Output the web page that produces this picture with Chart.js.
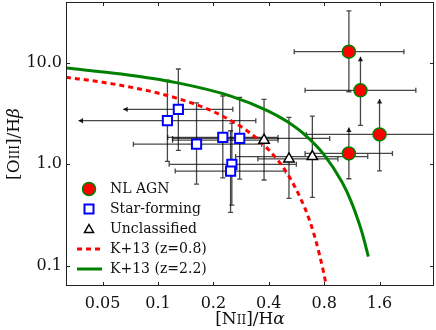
<!DOCTYPE html>
<html lang="en">
<head>
<meta charset="UTF-8" />
<title>BPT diagram</title>
<script src="https://cdn.jsdelivr.net/npm/chart.js"></script>
<style>
  body { margin: 0; background: #fff; }
</style>
</head>
<body>
<canvas id="bpt" width="436" height="330"></canvas>
<script>
// axis ticks
const xTicks = [0.05, 0.1, 0.2, 0.4, 0.8, 1.6];
const xTickLabels = ["0.05", "0.1", "0.2", "0.4", "0.8", "1.6"];
const yTicks = [0.1, 1, 10];
const yTickLabels = ["0.1", "1.0", "10.0"];

// NL AGN
const agnX   = [1.09, 1.26, 1.60, 1.09];
const agnY   = [12.9, 5.36, 1.97, 1.28];
const agnXLo = [0.55, 0.63, 0.64, 0.63];
const agnXHi = [2.17, 2.52, 4.0, 1.88];
const agnYLo = [5.19, 2.42, 0.86, 0.72];
const agnYHi = [32.5, 11.5, 4.4, 2.31];
const agnYLowerLim = [false, true, true, true];

// Star-forming
const sfX   = [0.1125, 0.129, 0.162, 0.225, 0.278, 0.252, 0.248];
const sfY   = [2.69, 3.48, 1.58, 1.84, 1.80, 1.00, 0.857];
const sfXLo = [0.037, 0.0647, 0.0735, 0.113, 0.120, 0.115, 0.124];
const sfXHi = [0.340, 0.255, 0.366, 0.449, 0.857, 0.565, 0.492];
const sfYLo = [1.07, 1.37, 0.638, 0.736, 0.714, 0.396, 0.336];
const sfYHi = [6.77, 8.7, 4.04, 4.71, 4.57, 2.53, 2.14];
const sfXUpperLim = [true, true, false, false, false, false, false];

// Unclassified
const unX   = [0.377, 0.515, 0.690];
const unY   = [1.73, 1.13, 1.19];
const unXLo = [0.12, 0.349, 0.264];
const unXHi = [0.449, 0.95, 1.38];
const unYLo = [0.70, 0.461, 0.472];
const unYHi = [4.37, 2.90, 2.99];

// K+13 demarcation curves
const k08X = [0.0316, 0.0501, 0.0794, 0.126, 0.200, 0.316, 0.398, 0.501, 0.631, 0.708, 0.794, 0.826];
const k08Y = [7.21, 6.43, 5.53, 4.49, 3.31, 2.04, 1.40, 0.826, 0.363, 0.198, 0.0863, 0.060];
const k22X = [0.0316, 0.0631, 0.126, 0.251, 0.398, 0.501, 0.631, 0.794, 1.0, 1.122, 1.259, 1.318, 1.39];
const k22Y = [8.89, 7.77, 6.38, 4.68, 3.35, 2.65, 1.94, 1.26, 0.668, 0.429, 0.239, 0.180, 0.123];

const SERIF = "'DejaVu Serif', serif";
const RED = "#ff0000", GREEN = "#008000", BLUE = "#0000ff";

const pts = (xs, ys) => xs.map((x, i) => ({ x: x, y: ys[i] }));

const errGroups = [
  { x: sfX, y: sfY, xlo: sfXLo, xhi: sfXHi, ylo: sfYLo, yhi: sfYHi, xUp: sfXUpperLim },
  { x: unX, y: unY, xlo: unXLo, xhi: unXHi, ylo: unYLo, yhi: unYHi },
  { x: agnX, y: agnY, xlo: agnXLo, xhi: agnXHi, ylo: agnYLo, yhi: agnYHi, yLow: agnYLowerLim }
];

function arrowHead(ctx, x, y, dir) {
  const s = 4.5;
  ctx.beginPath();
  if (dir === "left") { ctx.moveTo(x, y); ctx.lineTo(x + s, y - s * 0.6); ctx.lineTo(x + s, y + s * 0.6); }
  else { ctx.moveTo(x, y); ctx.lineTo(x - s * 0.6, y + s); ctx.lineTo(x + s * 0.6, y + s); }
  ctx.closePath(); ctx.fill();
}

const errorBars = {
  id: "errorBars",
  beforeDatasetsDraw(chart) {
    const { ctx, chartArea: a, scales: { x: sx, y: sy } } = chart;
    ctx.save();
    ctx.beginPath(); ctx.rect(a.left, a.top, a.right - a.left, a.bottom - a.top); ctx.clip();
    ctx.strokeStyle = "rgba(0,0,0,0.72)";
    ctx.fillStyle = "rgba(0,0,0,0.85)";
    ctx.lineWidth = 1.3;
    const cap = 2.5;
    errGroups.forEach(g => {
      g.x.forEach((xv, i) => {
        const px = sx.getPixelForValue(xv), py = sy.getPixelForValue(g.y[i]);
        const x0 = sx.getPixelForValue(g.xlo[i]), x1 = sx.getPixelForValue(g.xhi[i]);
        const y0 = sy.getPixelForValue(g.ylo[i]), y1 = sy.getPixelForValue(g.yhi[i]);
        ctx.beginPath();
        ctx.moveTo(x0, py); ctx.lineTo(x1, py);
        ctx.moveTo(px, y0); ctx.lineTo(px, y1);
        // caps
        if (!(g.xUp && g.xUp[i])) { ctx.moveTo(x0, py - cap); ctx.lineTo(x0, py + cap); }
        ctx.moveTo(x1, py - cap); ctx.lineTo(x1, py + cap);
        ctx.moveTo(px - cap, y0); ctx.lineTo(px + cap, y0);
        if (!(g.yLow && g.yLow[i])) { ctx.moveTo(px - cap, y1); ctx.lineTo(px + cap, y1); }
        ctx.stroke();
        if (g.xUp && g.xUp[i]) arrowHead(ctx, x0, py, "left");
        if (g.yLow && g.yLow[i]) arrowHead(ctx, px, y1, "up");
      });
    });
    ctx.restore();
  }
};

function richText(ctx, parts, x, y) {
  let w = 0;
  parts.forEach(p => { ctx.font = p.f; w += ctx.measureText(p.t).width; });
  let cx = x - w / 2;
  parts.forEach(p => { ctx.font = p.f; ctx.fillText(p.t, cx, y); cx += ctx.measureText(p.t).width; });
}

const frameAndText = {
  id: "frameAndText",
  afterDraw(chart) {
    const { ctx, chartArea: a, scales: { x: sx, y: sy } } = chart;
    ctx.save();
    // frame
    ctx.strokeStyle = "#222"; ctx.lineWidth = 1;
    ctx.strokeRect(a.left + 0.5, a.top + 0.5, a.right - a.left - 1, a.bottom - a.top - 1);
    // inward ticks
    ctx.beginPath();
    xTicks.forEach(v => {
      const p = Math.round(sx.getPixelForValue(v)) + 0.5;
      ctx.moveTo(p, a.bottom); ctx.lineTo(p, a.bottom - 4);
      ctx.moveTo(p, a.top); ctx.lineTo(p, a.top + 4);
    });
    yTicks.forEach(v => {
      const p = Math.round(sy.getPixelForValue(v)) + 0.5;
      ctx.moveTo(a.left, p); ctx.lineTo(a.left + 4, p);
      ctx.moveTo(a.right, p); ctx.lineTo(a.right - 4, p);
    });
    ctx.stroke();

    // y tick labels (drawn here so the scale adds no label padding on top)
    ctx.fillStyle = "#111";
    ctx.font = "16px " + SERIF;
    ctx.textAlign = "right";
    ctx.textBaseline = "middle";
    yTicks.forEach((v, i) => ctx.fillText(yTickLabels[i], a.left - 4, sy.getPixelForValue(v)));
    ctx.textAlign = "left";

    // axis titles
    ctx.textBaseline = "alphabetic";
    const big = "17px " + SERIF, sm = "12px " + SERIF, it = "italic 17px " + SERIF;
    richText(ctx, [{ t: "[N", f: big }, { t: "II", f: sm }, { t: "]/H", f: big }, { t: "α", f: it }],
      (a.left + a.right) / 2, 324);
    ctx.save();
    ctx.translate(19, (a.top + a.bottom) / 2);
    ctx.rotate(-Math.PI / 2);
    richText(ctx, [{ t: "[O", f: big }, { t: "III", f: sm }, { t: "]/H", f: big }, { t: "β", f: it }], 0, 0);
    ctx.restore();

    // legend
    const lx = 89, tx = 110;
    const rows = [189, 209, 229, 249, 269];
    ctx.font = "14px " + SERIF;
    ctx.textBaseline = "middle";
    ctx.fillStyle = "#111";
    ["NL AGN", "Star-forming", "Unclassified", "K+13 (z=0.8)", "K+13 (z=2.2)"].forEach((t, i) => ctx.fillText(t, tx, rows[i]));
    // markers
    ctx.beginPath(); ctx.arc(lx, rows[0], 6.5, 0, Math.PI * 2);
    ctx.fillStyle = RED; ctx.fill(); ctx.lineWidth = 1.5; ctx.strokeStyle = GREEN; ctx.stroke();
    ctx.lineWidth = 2; ctx.strokeStyle = BLUE; ctx.strokeRect(lx - 4.5, rows[1] - 4.5, 9, 9);
    ctx.beginPath(); ctx.moveTo(lx, rows[2] - 4.5); ctx.lineTo(lx + 4.5, rows[2] + 3.5); ctx.lineTo(lx - 4.5, rows[2] + 3.5); ctx.closePath();
    ctx.lineWidth = 1.5; ctx.strokeStyle = "#000"; ctx.stroke();
    ctx.lineWidth = 3;
    ctx.setLineDash([5, 4]); ctx.strokeStyle = RED;
    ctx.beginPath(); ctx.moveTo(77, rows[3]); ctx.lineTo(102, rows[3]); ctx.stroke();
    ctx.setLineDash([]); ctx.strokeStyle = GREEN;
    ctx.beginPath(); ctx.moveTo(77, rows[4]); ctx.lineTo(102, rows[4]); ctx.stroke();
    ctx.restore();
  }
};

new Chart(document.getElementById("bpt"), {
  type: "scatter",
  data: {
    datasets: [
      { label: "NL AGN", data: pts(agnX, agnY), pointStyle: "circle", pointRadius: 6.5,
        backgroundColor: RED, borderColor: GREEN, borderWidth: 1.5 },
      { label: "Star-forming", data: pts(sfX, sfY), pointStyle: "rect", pointRadius: 6.5,
        backgroundColor: "#fff", borderColor: BLUE, borderWidth: 2 },
      { label: "Unclassified", data: pts(unX, unY), pointStyle: "triangle", pointRadius: 6,
        backgroundColor: "#fff", borderColor: "#000", borderWidth: 1.5 },
      { label: "K+13 (z=0.8)", data: pts(k08X, k08Y), showLine: true, pointRadius: 0,
        borderColor: RED, borderWidth: 3, borderDash: [5, 4], cubicInterpolationMode: "monotone" },
      { label: "K+13 (z=2.2)", data: pts(k22X, k22Y), showLine: true, pointRadius: 0,
        borderColor: GREEN, borderWidth: 3, cubicInterpolationMode: "monotone" }
    ]
  },
  options: {
    responsive: false,
    animation: false,
    layout: { autoPadding: false, padding: { top: 2, right: 2, left: 0, bottom: 0 } },
    plugins: { legend: { display: false }, tooltip: { enabled: false } },
    scales: {
      x: {
        type: "logarithmic",
        min: Math.pow(10, -1.5), max: Math.pow(10, 0.5),
        afterBuildTicks: s => { s.ticks = xTicks.map(v => ({ value: v })); },
        afterFit: s => { s.height = 44; },
        grid: { display: false }, border: { display: false },
        ticks: { autoSkip: false, maxRotation: 0, padding: 0, color: "#111",
          font: { family: SERIF, size: 16 }, callback: (v, i) => xTickLabels[i] }
      },
      y: {
        type: "logarithmic",
        min: Math.pow(10, -1.2), max: Math.pow(10, 1.6),
        afterBuildTicks: s => { s.ticks = yTicks.map(v => ({ value: v })); },
        afterFit: s => { s.width = 66; s.paddingTop = 0; s.paddingBottom = 0; },
        grid: { display: false }, border: { display: false },
        ticks: { display: false }
      }
    }
  },
  plugins: [errorBars, frameAndText]
});
</script>
</body>
</html>
